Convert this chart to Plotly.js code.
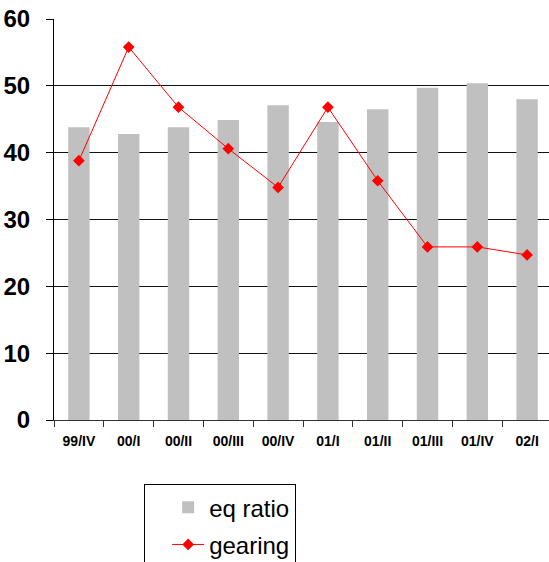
<!DOCTYPE html>
<html>
<head>
<meta charset="utf-8">
<script src="https://cdn.plot.ly/plotly-3.0.1.min.js"></script>
<style>
  html, body { margin: 0; padding: 0; overflow: hidden; background: #fff; }
  #chart { width: 553px; height: 562px; }
</style>
</head>
<body>
<div id="chart"></div>
<script>
// Quarterly periods
const quarters = ["99/IV", "00/I", "00/II", "00/III", "00/IV", "01/I", "01/II", "01/III", "01/IV", "02/I"];
// Equity ratio (%)
const eqRatio = [43.8, 42.8, 43.8, 44.9, 47.1, 44.6, 46.5, 49.7, 50.4, 48.0];
// Gearing (%)
const gearing = [38.8, 55.8, 46.8, 40.6, 34.8, 46.8, 35.8, 25.9, 25.9, 24.7];
// Y axis ticks
const yTicks = [0, 10, 20, 30, 40, 50, 60];

const traces = [
  {
    type: "bar",
    name: "eq ratio",
    x: quarters,
    y: eqRatio,
    marker: { color: "#c0c0c0" },
    width: 0.43,
    legendgroup: "a"
  },
  {
    type: "scatter",
    mode: "lines+markers",
    name: "gearing",
    x: quarters,
    y: gearing,
    line: { color: "#ff0000", width: 1 },
    marker: { symbol: "diamond", size: 9, color: "#ff0000" },
    legendgroup: "b"
  }
];

const layout = {
  width: 553,
  height: 562,
  margin: { l: 54, r: 1, t: 19, b: 142, autoexpand: false },
  paper_bgcolor: "#ffffff",
  plot_bgcolor: "#ffffff",
  font: { family: "Arial, 'Liberation Sans', sans-serif", color: "#000" },
  showlegend: true,
  legend: {
    x: 0.181, xanchor: "left",
    y: -0.16, yanchor: "top",
    bgcolor: "#ffffff",
    bordercolor: "#000000",
    borderwidth: 1,
    font: { size: 24, family: "Arial, 'Liberation Sans', sans-serif", color: "#000" },
    tracegroupgap: 3,
    itemwidth: 32,
    indentation: 22
  },
  xaxis: {
    type: "category",
    range: [-0.5, quarters.length - 0.5],
    tickmode: "array",
    tickvals: quarters,
    ticktext: quarters,
    tickson: "boundaries",
    ticks: "outside",
    ticklen: 6,
    tickcolor: "#333",
    showline: true,
    linecolor: "#333",
    linewidth: 1,
    showgrid: false,
    tickfont: { size: 14, family: "Arial, 'Liberation Sans', sans-serif", weight: "bold", color: "#000" },
    ticklabelstandoff: 8,
    fixedrange: true
  },
  yaxis: {
    range: [0, 60],
    tickmode: "array",
    tickvals: yTicks,
    ticks: "outside",
    ticklen: 7,
    tickcolor: "#000",
    showline: true,
    linecolor: "#000",
    linewidth: 1,
    showgrid: true,
    gridcolor: "#111",
    gridwidth: 1,
    zeroline: false,
    tickfont: { size: 24, family: "Arial, 'Liberation Sans', sans-serif", weight: "bold", color: "#000" },
    ticklabelstandoff: 11,
    fixedrange: true
  },
  bargap: 0.57
};

Plotly.newPlot("chart", traces, layout, { staticPlot: true, displayModeBar: false });
</script>
</body>
</html>
